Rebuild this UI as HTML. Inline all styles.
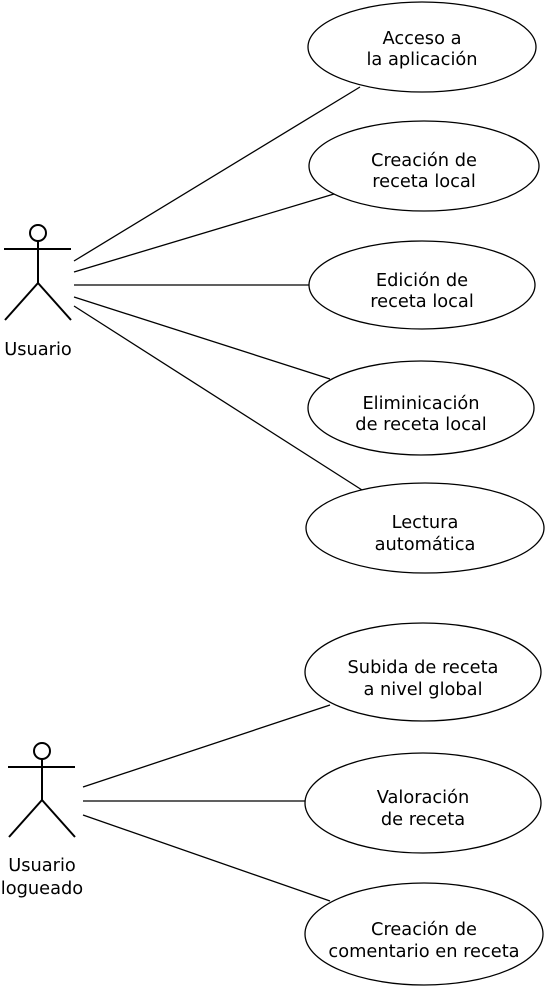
<!DOCTYPE html>
<html><head><meta charset="utf-8"><style>
html,body{margin:0;padding:0;background:#fff;}
svg{display:block;}
text{font-family:"DejaVu Sans","Liberation Sans",sans-serif;font-size:17.8px;fill:#000;text-anchor:middle;}
</style></head><body>
<svg width="547" height="989" viewBox="0 0 547 989" xmlns="http://www.w3.org/2000/svg">
<g fill="#fff" stroke="#000" stroke-width="1.3">
<ellipse cx="422" cy="47" rx="114" ry="45"/>
<ellipse cx="424" cy="166" rx="115" ry="45"/>
<ellipse cx="422" cy="285" rx="113" ry="44"/>
<ellipse cx="421" cy="408" rx="113" ry="47"/>
<ellipse cx="425" cy="528" rx="119" ry="45"/>
<ellipse cx="423" cy="672" rx="118" ry="49"/>
<ellipse cx="423" cy="803" rx="118" ry="50"/>
<ellipse cx="424" cy="934" rx="119" ry="51"/>
</g>
<g stroke="#000" stroke-width="1.3" fill="none">
<line x1="74" y1="261" x2="360" y2="87"/>
<line x1="74" y1="272" x2="334" y2="194"/>
<line x1="74" y1="285" x2="309" y2="285"/>
<line x1="74" y1="297" x2="330" y2="379"/>
<line x1="74" y1="306" x2="362" y2="490"/>
<line x1="83" y1="787" x2="330" y2="705"/>
<line x1="83" y1="801" x2="305" y2="801"/>
<line x1="83" y1="815" x2="330" y2="901"/>
</g>
<g stroke="#000" stroke-width="2" fill="#fff">
<circle cx="38" cy="233" r="8"/>
<line x1="38" y1="241" x2="38" y2="283"/>
<line x1="4" y1="249" x2="71" y2="249"/>
<line x1="38" y1="283" x2="5" y2="320"/>
<line x1="38" y1="283" x2="71" y2="320"/>
<circle cx="42" cy="751" r="8"/>
<line x1="42" y1="759" x2="42" y2="800"/>
<line x1="8" y1="767" x2="75" y2="767"/>
<line x1="42" y1="800" x2="9" y2="837"/>
<line x1="42" y1="800" x2="75" y2="837"/>
</g>
<text x="38" y="355">Usuario</text>
<text x="42" y="871">Usuario</text>
<text x="42" y="894">logueado</text>
<text x="422" y="44">Acceso a</text>
<text x="422" y="65">la aplicación</text>
<text x="424" y="166">Creación de</text>
<text x="424" y="187">receta local</text>
<text x="422" y="286">Edición de</text>
<text x="422" y="307">receta local</text>
<text x="421" y="409">Eliminicación</text>
<text x="421" y="430">de receta local</text>
<text x="425" y="528">Lectura</text>
<text x="425" y="550">automática</text>
<text x="423" y="673">Subida de receta</text>
<text x="423" y="695">a nivel global</text>
<text x="423" y="803">Valoración</text>
<text x="423" y="825">de receta</text>
<text x="424" y="935">Creación de</text>
<text x="424" y="957">comentario en receta</text>
</svg>
</body></html>
